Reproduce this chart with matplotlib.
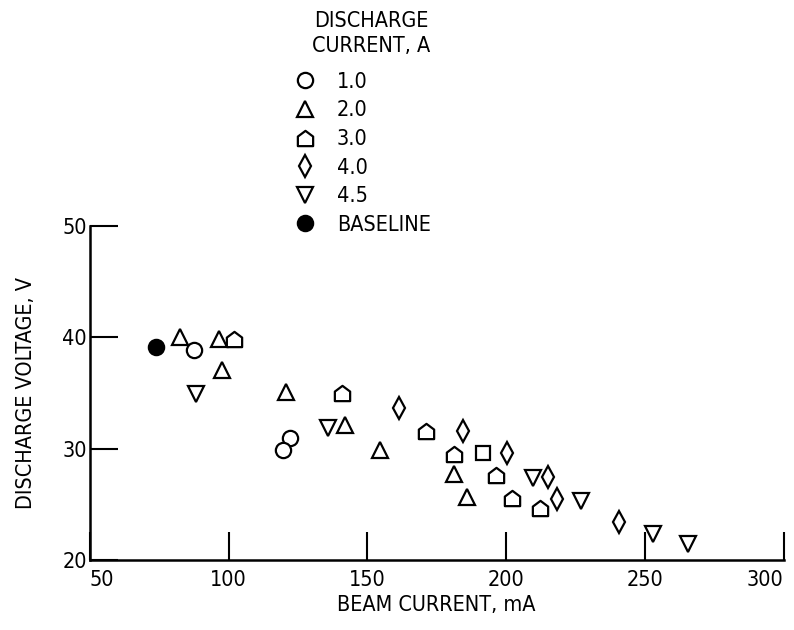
import matplotlib
matplotlib.use('Agg')
import matplotlib.pyplot as plt
from matplotlib.path import Path

plt.rcParams['font.family'] = ['DejaVu Sans']
plt.rcParams['font.stretch'] = 'condensed'

# Значения (ток пучка, мА; напряжение разряда, В)
beam_1_0 = [87.7, 122.1, 119.7]
volt_1_0 = [38.9, 31.0, 29.9]

beam_2_0 = [82.5, 96.7, 97.7, 120.7, 142.1, 154.7, 181.3, 185.9]
volt_2_0 = [40.0, 39.9, 37.1, 35.1, 32.1, 29.9, 27.7, 25.7]

beam_3_0 = [101.9, 140.9, 171.1, 181.1, 196.4, 202.0, 212.2]
volt_3_0 = [39.9, 35.0, 31.6, 29.5, 27.6, 25.6, 24.7]

beam_4_0 = [161.3, 184.3, 200.5, 215.0, 218.2, 240.8]
volt_4_0 = [33.7, 31.6, 29.6, 27.5, 25.5, 23.4]

beam_4_5 = [88.4, 135.7, 209.6, 227.0, 253.0, 265.6]
volt_4_5 = [34.9, 31.9, 27.4, 25.3, 22.3, 21.4]

beam_base = [73.7]
volt_base = [39.1]

# точка-квадрат без подписи в легенде
beam_sq = [191.8]
volt_sq = [29.6]

x_ticks = [50, 100, 150, 200, 250, 300]
y_ticks = [20, 30, 40, 50]

# "домик" - маркер для 3.0 A
house = Path([(-1, -1), (1, -1), (1, 0.25), (0, 1), (-1, 0.25), (-1, -1)],
             [Path.MOVETO, Path.LINETO, Path.LINETO, Path.LINETO, Path.LINETO, Path.CLOSEPOLY])

fig = plt.figure(figsize=(7.94, 6.3), dpi=100)
ax = fig.add_axes([0.113, 0.111, 0.874, 0.530])

ms = 11
mew = 1.6
style = dict(linestyle='none', markersize=ms, markeredgewidth=mew,
             markeredgecolor='black', markerfacecolor='white')

ax.plot(beam_1_0, volt_1_0, marker='o', label='1.0', **style)
ax.plot(beam_2_0, volt_2_0, marker='^', label='2.0', **style)
ax.plot(beam_3_0, volt_3_0, marker=house, label='3.0', **style)
ax.plot(beam_4_0, volt_4_0, marker='d', label='4.0', **style)
ax.plot(beam_4_5, volt_4_5, marker='v', label='4.5', **style)
ax.plot(beam_base, volt_base, marker='o', label='BASELINE', linestyle='none',
        markersize=ms, markeredgewidth=mew, markeredgecolor='black', markerfacecolor='black')
ax.plot(beam_sq, volt_sq, marker='s', linestyle='none', markersize=ms * 0.9,
        markeredgewidth=mew, markeredgecolor='black', markerfacecolor='white')

fs = 15.5
ax.set_xlim(50, 300)
ax.set_ylim(20, 50)
ax.set_xticks(x_ticks)
ax.set_yticks(y_ticks)
ax.tick_params(direction='in', length=20, width=1.5, labelsize=fs)
ax.tick_params(axis='x', pad=7)
ax.tick_params(axis='y', pad=2)
ax.xaxis.get_majorticklabels()[-1].set_horizontalalignment('right')
ax.xaxis.get_majorticklabels()[0].set_horizontalalignment('left')
ax.spines['top'].set_visible(False)
ax.spines['right'].set_visible(False)
ax.spines['left'].set_linewidth(1.8)
ax.spines['bottom'].set_linewidth(1.8)
ax.set_xlabel('BEAM CURRENT, mA', fontsize=fs, labelpad=4)
ax.set_ylabel('DISCHARGE VOLTAGE, V', fontsize=fs, labelpad=19)

# заголовок легенды отдельным текстом
fig.text(0.468, 0.982, 'DISCHARGE\nCURRENT, A', ha='center', va='top', fontsize=fs,
         linespacing=1.3)
leg = ax.legend(loc='upper left', bbox_to_anchor=(0.37, 0.886), bbox_transform=fig.transFigure,
                frameon=False, fontsize=fs, handlelength=1.0, handletextpad=1.0,
                labelspacing=0.40, borderaxespad=0, borderpad=0)
leg.set_clip_on(False)

plt.savefig('out.png', dpi=100)
plt.close()
